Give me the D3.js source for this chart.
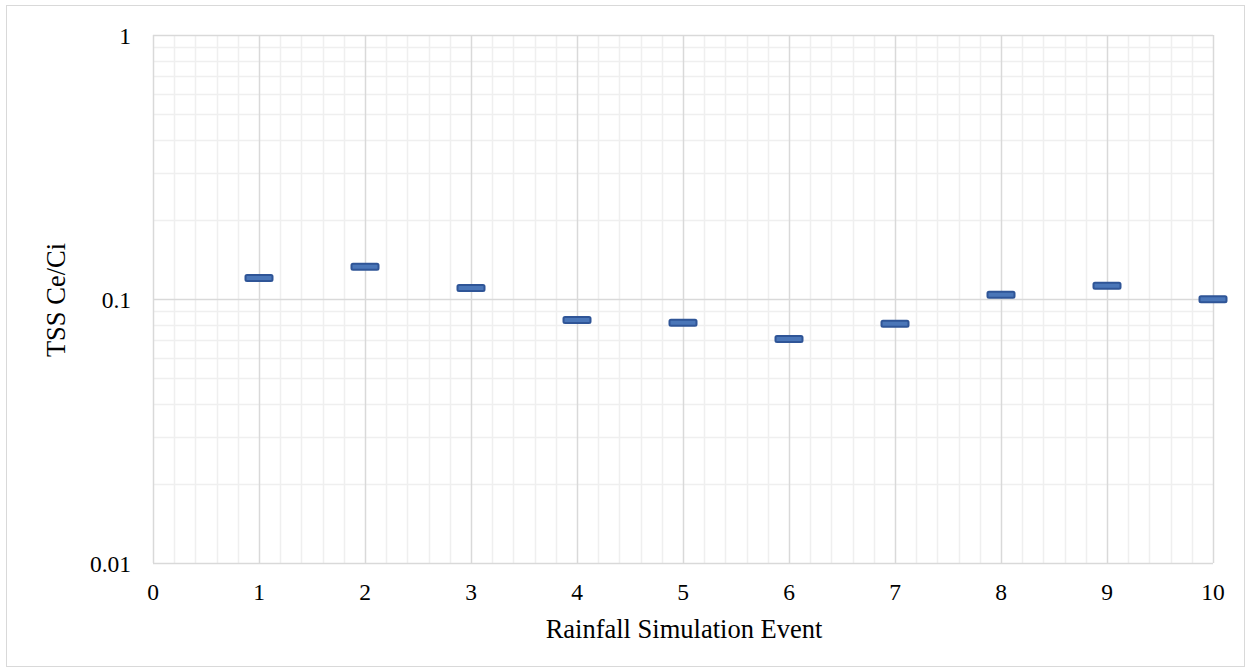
<!DOCTYPE html>
<html lang="en">
<head>
  <meta charset="UTF-8">
  <title>TSS Ce/Ci</title>
  <style>
    body { margin: 0; background: #fff; }
  </style>
</head>
<body>
  <script src="https://d3js.org/d3.v7.min.js"></script>
  <script>
    // values
    const events = [1, 2, 3, 4, 5, 6, 7, 8, 9, 10];
    const ratio = [0.120, 0.1326, 0.110, 0.0833, 0.0813, 0.0706, 0.0806, 0.1038, 0.1123, 0.0997];
    const xTicks = [0, 1, 2, 3, 4, 5, 6, 7, 8, 9, 10];
    const yTicks = [0.01, 0.1, 1];
    const yTickLabels = ['0.01', '0.1', '1'];

    const width = 1250, height = 672;
    const plot = { left: 153, right: 1213, top: 35, bottom: 563 };
    const serif = "'Liberation Serif', 'Times New Roman', 'DejaVu Serif', serif";

    const svg = d3.select('body').append('svg')
      .attr('width', width)
      .attr('height', height)
      .attr('font-family', serif);

    // outer chart border
    svg.append('rect')
      .attr('x', 6.5).attr('y', 5.5)
      .attr('width', 1238).attr('height', 661)
      .attr('fill', 'none').attr('stroke', '#d9d9d9');

    const x = d3.scaleLinear().domain([0, 10]).range([plot.left, plot.right]);
    const y = d3.scaleLog().domain([0.01, 1]).range([plot.bottom, plot.top]);

    // minor grid
    const xMinor = d3.range(0, 10.001, 0.2).filter(v => Math.abs(v - Math.round(v)) > 1e-6);
    const yMinor = [];
    [0.01, 0.1].forEach(d => { for (let k = 2; k <= 9; k++) yMinor.push(d * k); });

    const grid = svg.append('g');
    grid.selectAll('.xmin').data(xMinor).enter().append('line')
      .attr('x1', d => Math.round(x(d)) + 0.5).attr('x2', d => Math.round(x(d)) + 0.5)
      .attr('y1', plot.top).attr('y2', plot.bottom)
      .attr('stroke', '#efefef').attr('stroke-width', 1.5);
    grid.selectAll('.ymin').data(yMinor).enter().append('line')
      .attr('x1', plot.left).attr('x2', plot.right)
      .attr('y1', d => Math.round(y(d)) + 0.5).attr('y2', d => Math.round(y(d)) + 0.5)
      .attr('stroke', '#efefef').attr('stroke-width', 1.5);

    // major grid
    grid.selectAll('.xmaj').data(xTicks).enter().append('line')
      .attr('x1', d => Math.round(x(d)) + 0.5).attr('x2', d => Math.round(x(d)) + 0.5)
      .attr('y1', plot.top).attr('y2', plot.bottom)
      .attr('stroke', '#d9d9d9').attr('stroke-width', 1.5);
    grid.selectAll('.ymaj').data(yTicks).enter().append('line')
      .attr('x1', plot.left).attr('x2', plot.right)
      .attr('y1', d => Math.round(y(d)) + 0.5).attr('y2', d => Math.round(y(d)) + 0.5)
      .attr('stroke', '#d9d9d9').attr('stroke-width', 1.5);

    // tick labels
    svg.append('g').selectAll('text').data(xTicks).enter().append('text')
      .attr('x', d => x(d)).attr('y', 600)
      .attr('text-anchor', 'middle')
      .attr('font-size', 23.5)
      .text(d => d);
    svg.append('g').selectAll('text').data(yTicks).enter().append('text')
      .attr('x', plot.left - 22).attr('y', d => y(d) + 8.5)
      .attr('text-anchor', 'end')
      .attr('font-size', 23.5)
      .text((d, i) => yTickLabels[i]);

    // axis titles
    svg.append('text')
      .attr('x', 684).attr('y', 638)
      .attr('text-anchor', 'middle')
      .attr('font-size', 26.5)
      .text('Rainfall Simulation Event');
    svg.append('text')
      .attr('transform', `translate(65, 300) rotate(-90)`)
      .attr('text-anchor', 'middle')
      .attr('font-size', 26.5)
      .text('TSS Ce/Ci');

    // dash markers
    svg.append('g').selectAll('rect').data(events).enter().append('rect')
      .attr('x', (d) => x(d) - 13.5)
      .attr('y', (d, i) => y(ratio[i]) - 3)
      .attr('width', 27).attr('height', 6)
      .attr('rx', 1.5)
      .attr('fill', '#4a76b8')
      .attr('stroke', '#2f5597')
      .attr('stroke-width', 2);
  </script>
</body>
</html>
